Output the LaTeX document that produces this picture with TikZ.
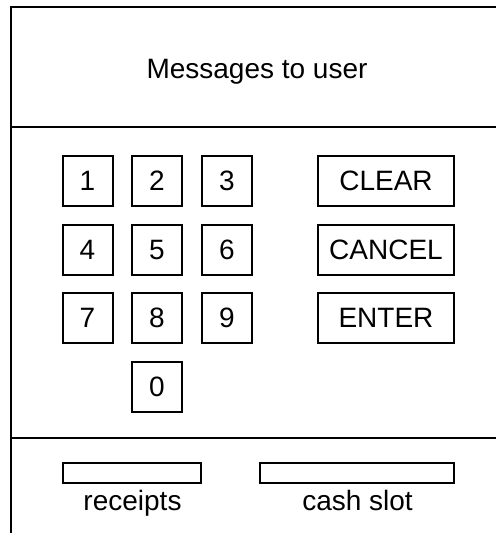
\documentclass[tikz,border=0pt]{standalone}
\usepackage{fontspec}
\setmainfont{Liberation Sans}
\begin{document}
\begin{tikzpicture}[x=0.75pt,y=-0.75pt,
  frame/.style={line width=1.7pt},
  key/.style={draw,line width=1.5pt,minimum width=37.5pt,minimum height=37.5pt,inner sep=0pt,font=\fontsize{21}{24}\selectfont},
  fnkey/.style={draw,line width=1.5pt,minimum width=102pt,minimum height=37.5pt,inner sep=0pt,font=\fontsize{21}{24}\selectfont},
  slot/.style={draw,line width=1.5pt,minimum height=14.5pt,inner sep=0pt},
  lbl/.style={font=\fontsize{21}{24}\selectfont,anchor=base,inner sep=0pt}]
\useasboundingbox (0,0) rectangle (496,533);
% panel outline and dividers
\coordinate (tl) at (11,7);
\coordinate (tr) at (496,7);
\coordinate (bl) at (11,533);
\draw[frame] (tr) -- (tl) -- (bl);
\draw[frame] (11,127) -- (496,127);
\draw[frame] (11,438) -- (496,438);
% display area
\node[lbl] (msg) at (257,78) {Messages to user};
% numeric keypad
\node[key] (k1) at (87.5,181) {1};
\node[key] (k2) at (157,181) {2};
\node[key] (k3) at (227,181) {3};
\node[key] (k4) at (87.5,249.5) {4};
\node[key] (k5) at (157,249.5) {5};
\node[key] (k6) at (227,249.5) {6};
\node[key] (k7) at (87.5,318) {7};
\node[key] (k8) at (157,318) {8};
\node[key] (k9) at (227,318) {9};
\node[key] (k0) at (157,386.5) {0};
% function keys
\node[fnkey] (clear) at (386,181) {CLEAR};
\node[fnkey] (cancel) at (386,250) {CANCEL};
\node[fnkey] (enter) at (386,318) {ENTER};
% slots
\node[slot,minimum width=104pt] (rslot) at (132,473) {};
\node[slot,minimum width=145.5pt] (cslot) at (357,473) {};
\node[lbl] (rlbl) at (132.5,510) {receipts};
\node[lbl] (clbl) at (357.5,510) {cash slot};
\end{tikzpicture}
\end{document}
